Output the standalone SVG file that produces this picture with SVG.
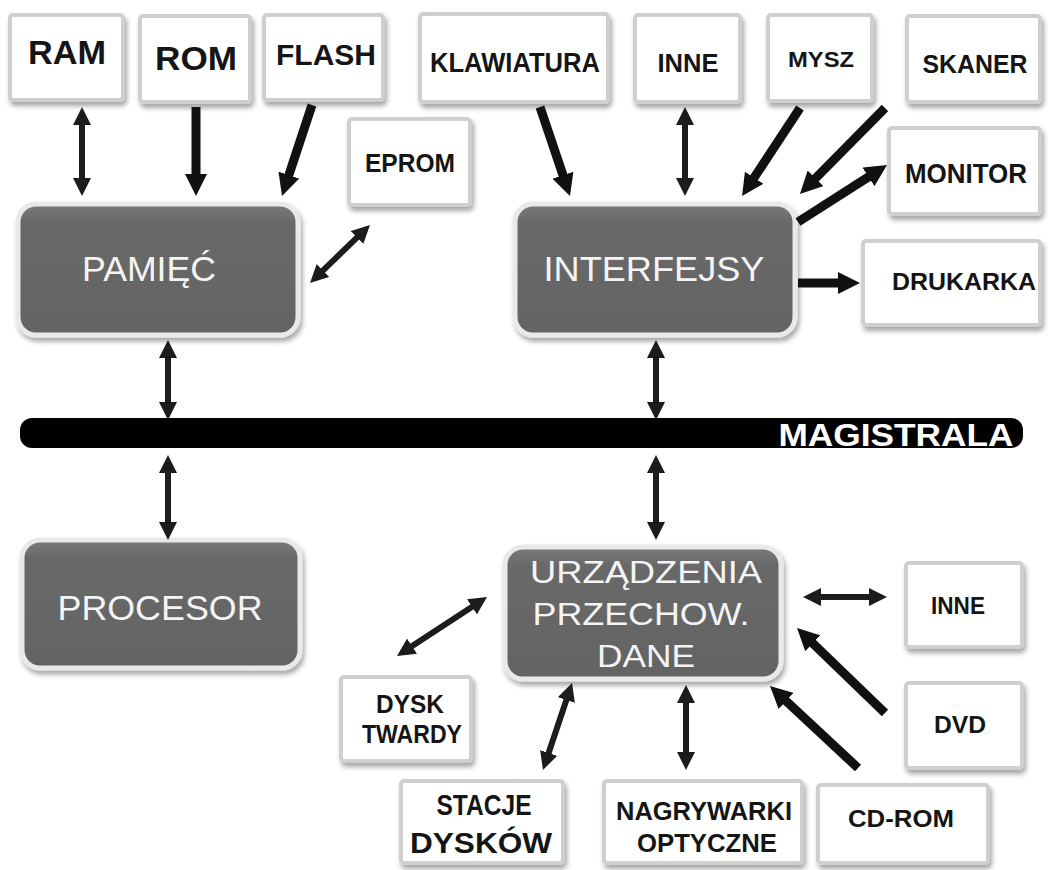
<svg xmlns="http://www.w3.org/2000/svg" width="1048" height="870" viewBox="0 0 1048 870">
<defs>
<filter id="sh" x="-10%" y="-10%" width="125%" height="130%">
<feDropShadow dx="2" dy="4" stdDeviation="2.5" flood-color="#000" flood-opacity="0.35"/>
</filter>
<linearGradient id="dg" x1="0" y1="0" x2="0" y2="1">
<stop offset="0" stop-color="#7a7a7a"/>
<stop offset="0.15" stop-color="#686868"/>
<stop offset="1" stop-color="#646464"/>
</linearGradient>
<marker id="ab" viewBox="0 0 22 22" markerUnits="userSpaceOnUse" markerWidth="22" markerHeight="22" refX="7" refY="11" orient="auto-start-reverse">
<path d="M0,0 L22,11 L0,22 z" fill="#111"/>
</marker>
<marker id="as" viewBox="0 0 18 18" markerUnits="userSpaceOnUse" markerWidth="18" markerHeight="18" refX="3" refY="9" orient="auto-start-reverse">
<path d="M0,0 L18,9 L0,18 z" fill="#1c1c1c"/>
</marker>
<style>
.wb{fill:#fff;stroke:#cfcfcf;stroke-width:4;filter:url(#sh)}
.db{fill:url(#dg);stroke:#e9e9e9;stroke-width:5;filter:url(#sh)}
.bt{font-family:"Liberation Sans",Arial,sans-serif;font-weight:bold;fill:#151515;text-anchor:middle}
.wt{font-family:"Liberation Sans",Arial,sans-serif;fill:#f4f4f4;text-anchor:middle}
.a1{stroke:#111;stroke-width:9;fill:none;marker-end:url(#ab)}
.a2{stroke:#1c1c1c;stroke-width:6;fill:none;marker-start:url(#as);marker-end:url(#as)}
</style>
</defs>
<rect width="1048" height="870" fill="#fff"/>

<g id="bus">
<rect x="20" y="418" width="1003" height="30" rx="12" fill="#000"/>
<text x="896" y="446" font-family="Liberation Sans,Arial,sans-serif" font-weight="bold" font-size="31" fill="#fff" text-anchor="middle" textLength="235" lengthAdjust="spacingAndGlyphs">MAGISTRALA</text>
</g>

<g id="ram"><rect class="wb" x="10" y="15" width="113" height="85" rx="3"/><text class="bt" x="67" y="64" font-size="33" textLength="78" lengthAdjust="spacingAndGlyphs">RAM</text></g>
<g id="rom"><rect class="wb" x="140" y="16" width="110" height="86" rx="3"/><text class="bt" x="196" y="70" font-size="33" textLength="82" lengthAdjust="spacingAndGlyphs">ROM</text></g>
<g id="flash"><rect class="wb" x="264" y="15" width="119" height="85" rx="3"/><text class="bt" x="326" y="65" font-size="30" textLength="100" lengthAdjust="spacingAndGlyphs">FLASH</text></g>
<g id="eprom"><rect class="wb" x="349" y="119" width="121" height="86" rx="3"/><text class="bt" x="410" y="172" font-size="25" textLength="90" lengthAdjust="spacingAndGlyphs">EPROM</text></g>
<g id="klawiatura"><rect class="wb" x="420" y="14" width="188" height="88" rx="3"/><text class="bt" x="515" y="72" font-size="27" textLength="170" lengthAdjust="spacingAndGlyphs">KLAWIATURA</text></g>
<g id="inne1"><rect class="wb" x="635" y="15" width="105" height="87" rx="3"/><text class="bt" x="688" y="72" font-size="26" textLength="61" lengthAdjust="spacingAndGlyphs">INNE</text></g>
<g id="mysz"><rect class="wb" x="768" y="15" width="104" height="86" rx="3"/><text class="bt" x="821" y="67" font-size="22" textLength="66" lengthAdjust="spacingAndGlyphs">MYSZ</text></g>
<g id="skaner"><rect class="wb" x="907" y="16" width="133" height="86" rx="3"/><text class="bt" x="975" y="73" font-size="25" textLength="105" lengthAdjust="spacingAndGlyphs">SKANER</text></g>
<g id="monitor"><rect class="wb" x="889" y="128" width="151" height="86" rx="3"/><text class="bt" x="966" y="183" font-size="27" textLength="122" lengthAdjust="spacingAndGlyphs">MONITOR</text></g>
<g id="drukarka"><rect class="wb" x="863" y="241" width="177" height="84" rx="3"/><text class="bt" x="964" y="290" font-size="24" textLength="144" lengthAdjust="spacingAndGlyphs">DRUKARKA</text></g>

<g id="pamiec"><rect class="db" x="18" y="204" width="280" height="131" rx="18"/><text class="wt" x="149" y="281" font-size="35" textLength="134" lengthAdjust="spacingAndGlyphs">PAMIĘĆ</text></g>
<g id="interfejsy"><rect class="db" x="515" y="204" width="280" height="131" rx="18"/><text class="wt" x="654" y="281" font-size="35" textLength="221" lengthAdjust="spacingAndGlyphs">INTERFEJSY</text></g>
<g id="procesor"><rect class="db" x="22" y="540" width="278" height="128" rx="18"/><text class="wt" x="160" y="620" font-size="35" textLength="205" lengthAdjust="spacingAndGlyphs">PROCESOR</text></g>
<g id="urzadzenia"><rect class="db" x="505" y="547" width="276" height="132" rx="18"/>
<text class="wt" x="646" y="583" font-size="32" textLength="232" lengthAdjust="spacingAndGlyphs">URZĄDZENIA</text>
<text class="wt" x="641" y="625" font-size="32" textLength="217" lengthAdjust="spacingAndGlyphs">PRZECHOW.</text>
<text class="wt" x="646" y="667" font-size="32" textLength="98" lengthAdjust="spacingAndGlyphs">DANE</text></g>

<g id="inne2"><rect class="wb" x="906" y="563" width="116" height="84" rx="3"/><text class="bt" x="958" y="614" font-size="24" textLength="54" lengthAdjust="spacingAndGlyphs">INNE</text></g>
<g id="dvd"><rect class="wb" x="906" y="683" width="116" height="85" rx="3"/><text class="bt" x="960" y="733" font-size="24" textLength="52" lengthAdjust="spacingAndGlyphs">DVD</text></g>
<g id="dysk"><rect class="wb" x="341" y="677" width="130" height="84" rx="3"/><text class="bt" x="410" y="713" font-size="25" textLength="68" lengthAdjust="spacingAndGlyphs">DYSK</text><text class="bt" x="412" y="743" font-size="25" textLength="100" lengthAdjust="spacingAndGlyphs">TWARDY</text></g>
<g id="stacje"><rect class="wb" x="401" y="781" width="162" height="82" rx="3"/><text class="bt" x="484" y="815" font-size="30" textLength="95" lengthAdjust="spacingAndGlyphs">STACJE</text><text class="bt" x="481" y="853" font-size="30" textLength="142" lengthAdjust="spacingAndGlyphs">DYSKÓW</text></g>
<g id="nagrywarki"><rect class="wb" x="604" y="781" width="198" height="82" rx="3"/><text class="bt" x="704" y="820" font-size="25" textLength="176" lengthAdjust="spacingAndGlyphs">NAGRYWARKI</text><text class="bt" x="707" y="852" font-size="25" textLength="140" lengthAdjust="spacingAndGlyphs">OPTYCZNE</text></g>
<g id="cdrom"><rect class="wb" x="818" y="785" width="170" height="78" rx="3"/><text class="bt" x="901" y="827" font-size="24" textLength="106" lengthAdjust="spacingAndGlyphs">CD-ROM</text></g>

<g id="connectors">
<line class="a2" x1="82" y1="122" x2="82" y2="181"/>
<line class="a1" x1="196" y1="107" x2="196" y2="181"/>
<line class="a1" x1="312" y1="105" x2="286.7" y2="181.7"/>
<line class="a2" x1="359.2" y1="235.4" x2="320.8" y2="272.6"/>
<line class="a2" x1="168" y1="355" x2="168" y2="405"/>
<line class="a2" x1="168" y1="470" x2="168" y2="525"/>
<line class="a2" x1="656" y1="355" x2="656" y2="405"/>
<line class="a2" x1="656" y1="470" x2="656" y2="525"/>
<line class="a1" x1="540" y1="107" x2="565.2" y2="181.8"/>
<line class="a2" x1="685" y1="122" x2="685" y2="181"/>
<line class="a1" x1="800" y1="108" x2="750.3" y2="183.5"/>
<line class="a1" x1="885" y1="108" x2="810.5" y2="183.3"/>
<line class="a1" x1="798" y1="222" x2="874.4" y2="173.1"/>
<line class="a1" x1="798" y1="283" x2="845" y2="283"/>
<line class="a2" x1="474.5" y1="605.2" x2="409.5" y2="647.8"/>
<line class="a2" x1="818" y1="597" x2="872" y2="597"/>
<line class="a1" x1="885" y1="713" x2="807.8" y2="638.4"/>
<line class="a1" x1="858" y1="768" x2="781" y2="696.2"/>
<line class="a2" x1="567.3" y1="697.2" x2="547.7" y2="755.8"/>
<line class="a2" x1="686" y1="700" x2="686" y2="755"/>
</g>
</svg>
